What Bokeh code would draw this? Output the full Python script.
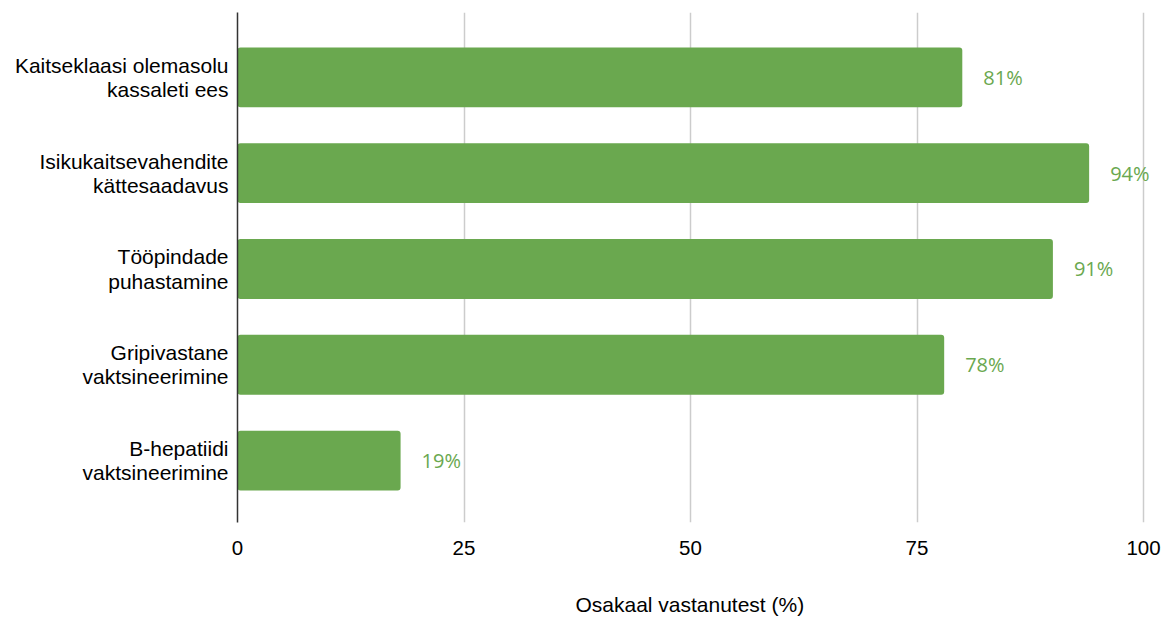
from bokeh.plotting import figure
from bokeh.models import Range1d, FixedTicker, ColumnDataSource
from bokeh.core.properties import value
from bokeh.embed import file_html
from bokeh.resources import INLINE

categories = [
    "Kaitseklaasi olemasolu\nkassaleti ees",
    "Isikukaitsevahendite\nkättesaadavus",
    "Tööpindade\npuhastamine",
    "Gripivastane\nvaktsineerimine",
    "B-hepatiidi\nvaktsineerimine",
]
bar_values = [80, 94, 90, 78, 18]
value_labels = ["81%", "94%", "91%", "78%", "19%"]
x_ticks = [0, 25, 50, 75, 100]
x_title = "Osakaal vastanutest (%)"

GREEN = "#6aa84f"

pos = list(range(len(categories)))
src = ColumnDataSource(dict(y=pos, v=bar_values, lab=value_labels))

# frame extends slightly past 100 so the outer value label is not clipped
LEFT, RIGHT_100, FRAME_RIGHT = 237, 1143, 1165
x_end = 100 * (FRAME_RIGHT - LEFT) / (RIGHT_100 - LEFT)

p = figure(width=1168, height=619, output_backend="svg", toolbar_location=None,
           x_range=Range1d(0, x_end), y_range=Range1d(4.646, -0.677),
           min_border_left=LEFT, min_border_right=1168 - FRAME_RIGHT,
           min_border_top=12, min_border_bottom=97)
p.outline_line_color = None
p.background_fill_color = "white"
p.border_fill_color = "white"

p.hbar(y="y", right="v", left=0, height=0.625, source=src, color=GREEN,
       line_color=None, border_radius=3)
p.text(x="v", y="y", text="lab", source=src, x_offset=21, text_align="left",
       text_baseline="middle", text_color=GREEN, text_font=value("Open Sans"),
       text_font_size="20px")

# x axis
xa = p.xaxis[0]
xa.ticker = FixedTicker(ticks=x_ticks)
xa.axis_line_color = None
xa.major_tick_line_color = None
xa.minor_tick_line_color = None
xa.major_label_text_font = "Liberation Sans"
xa.major_label_text_font_size = "20.5px"
xa.major_label_text_color = "#000000"
xa.major_label_standoff = 12
# trailing no-break spaces shift the centred title left, under the 0..100 span
xa.axis_label = x_title + "\u00a0" * 4
xa.axis_label_text_font = "Liberation Sans"
xa.axis_label_text_font_size = "21px"
xa.axis_label_text_font_style = "normal"
xa.axis_label_text_color = "#000000"
xa.axis_label_standoff = 35

# y axis
ya = p.yaxis[0]
ya.ticker = FixedTicker(ticks=pos)
ya.major_label_overrides = {i: c for i, c in enumerate(categories)}
ya.axis_line_color = "#333333"
ya.axis_line_width = 1.5
ya.major_tick_line_color = None
ya.minor_tick_line_color = None
ya.major_label_text_font = "Liberation Sans"
ya.major_label_text_font_size = "21px"
ya.major_label_text_line_height = 1.05
ya.major_label_text_color = "#000000"
ya.major_label_text_align = "right"
ya.major_label_standoff = 3

p.ygrid.grid_line_color = None
p.xgrid.ticker = FixedTicker(ticks=[25, 50, 75, 100])
p.xgrid.grid_line_color = "#cccccc"
p.xgrid.grid_line_width = 1.5

open("out.html", "w").write(file_html(p, INLINE))
